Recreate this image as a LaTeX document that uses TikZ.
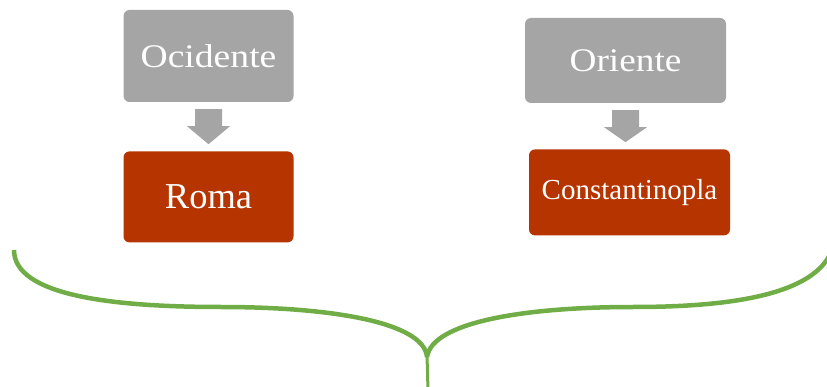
\documentclass[tikz,border=0pt]{standalone}
\usepackage{fontspec}
\setmainfont{Liberation Serif}
\usetikzlibrary{positioning,calc}
\definecolor{boxgray}{HTML}{A5A5A5}
\definecolor{boxred}{HTML}{B53400}
\definecolor{bracegreen}{HTML}{70AD47}
\tikzset{
  graybox/.style={fill=boxgray, rounded corners=6pt, text=white, minimum width=170pt, minimum height=92pt, font=\fontsize{33}{37}\selectfont},
  redbox/.style={fill=boxred, rounded corners=6pt, text=white, minimum width=170pt, minimum height=91pt},
  brace/.style={draw=bracegreen, line width=4.5pt}
}
% block arrow from the box #1 down to the box #2
\newcommand{\blockarrow}[2]{%
  \fill[boxgray] ($(#1.south)+(-13.5,7)$) -- ($(#1.south)+(13.5,7)$) -- ($(#1.south)+(13.5,24)$)
    -- ($(#1.south)+(21.5,24)$) -- ($(#1.south |- #2.north)+(0,-7)$) -- ($(#1.south)+(-21.5,24)$)
    -- ($(#1.south)+(-13.5,24)$) -- cycle;}
\begin{document}
\begin{tikzpicture}[x=1pt,y=-1pt]
\useasboundingbox (0,0) rectangle (827,387);
\node[graybox](ocid) at (208.5,56) {\scalebox{1.14}[1]{Ocidente}};
\node[redbox, below=49pt of ocid, font=\fontsize{36.5}{40}\selectfont](roma) {Roma};
\node[graybox, minimum width=201pt, minimum height=85pt](orie) at (625.5,60.5) {\scalebox{1.13}[1]{Oriente}};
\node[redbox, minimum width=201pt, minimum height=86pt, below=46pt of orie, xshift=4pt, font=\fontsize{29}{33}\selectfont](const) {Constantinopla};
\blockarrow{ocid}{roma}
\blockarrow{orie}{const}
% the brace under both
\draw[brace] (14,250) .. controls (14,295) and (110,307) .. (221,307)
  .. controls (330,307) and (424,322) .. (427,357);
\draw[brace] (427,357) .. controls (432,322) and (525,307) .. (633,307)
  .. controls (730,307) and (815,295) .. (832,250);
\draw[bracegreen, line width=3pt] (427,355) -- (428,390);
\end{tikzpicture}
\end{document}
